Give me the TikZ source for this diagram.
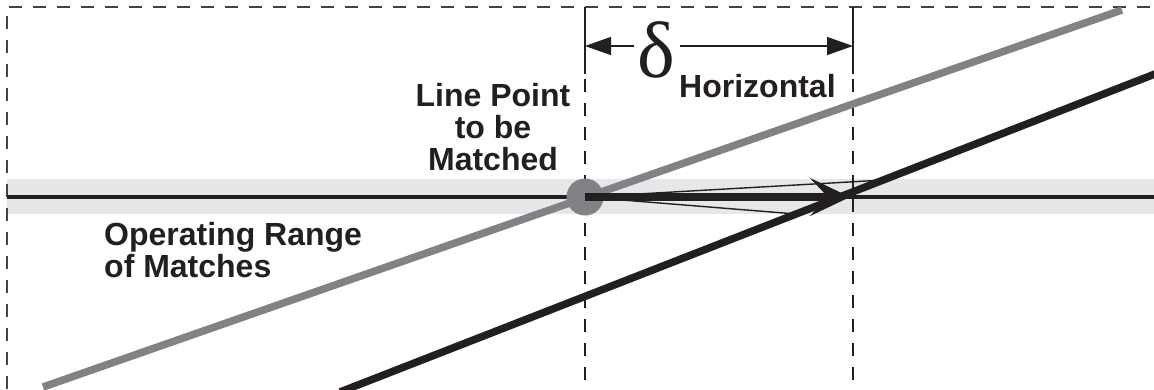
\documentclass[tikz,border=0pt]{standalone}
\usepackage{fontspec}
\setmainfont{Liberation Sans}
\newfontfamily\deltafont{Liberation Serif}
\usetikzlibrary{arrows.meta}
\definecolor{bandgray}{HTML}{E6E7E8}
\definecolor{linegray}{HTML}{808285}
\definecolor{inkblack}{HTML}{231F20}
\tikzset{
  framedash/.style={draw=inkblack!85, line width=1.1pt, dash pattern=on 13pt off 11pt},
  guidedash/.style={draw=inkblack, line width=1.1pt, dash pattern=on 13pt off 11pt},
  extline/.style={draw=inkblack, line width=2pt},
  dimline/.style={draw=inkblack, line width=1.4pt},
  label/.style={font=\fontsize{32}{32}\selectfont\bfseries, text=inkblack, inner sep=0pt},
  thinray/.style={draw=inkblack, line width=1.4pt},
}
\begin{document}
\begin{tikzpicture}[x=1pt, y=-1pt]
\useasboundingbox (0,0) rectangle (1154,389);
% band
\fill[bandgray] (7,179) rectangle (1154,214);
% frame
\coordinate (fbl) at (7,389);
\coordinate (ftl) at (7,7);
\coordinate (ftr) at (1154,7);
\draw[framedash] (fbl) -- (ftl) -- (ftr);
% guides
\coordinate (g1t) at (585,7);
\coordinate (g1b) at (585,389);
\coordinate (g2t) at (853,7);
\coordinate (g2b) at (853,389);
\draw[guidedash] (g1t) -- (g1b);
\draw[guidedash] (g2t) -- (g2b);
% horizontal line
\coordinate (hl) at (7,197);
\coordinate (hr) at (1154,197);
\draw[inkblack, line width=4pt] (hl) -- (hr);
% gray line
\coordinate (ga) at (43,387);
\coordinate (gb) at (1122,10);
\draw[linegray, line width=7.5pt] (ga) -- (gb);
% point
\node[circle, fill=linegray, minimum size=37pt, inner sep=0pt] (pt) at (585,197) {};
% rays to range ends
\coordinate (rtop) at (884,180);
\coordinate (rbot) at (796,214);
\draw[thinray] (pt.center) -- (rtop);
\draw[thinray] (pt.center) -- (rbot);
% thick arrow
\coordinate (tip) at (850,197);
\draw[inkblack, line width=8pt, -{Stealth[length=40pt, width=38pt, inset=18pt]}] (pt.center) -- (tip);
% black line
\coordinate (ba) at (340,392);
\coordinate (bb) at (1160,72);
\draw[inkblack, line width=7.5pt] (ba) -- (bb);
% extension lines
\coordinate (e1a) at (585,17);
\coordinate (e1b) at (585,74);
\coordinate (e2a) at (853,17);
\coordinate (e2b) at (853,74);
\draw[extline] (e1a) -- (e1b);
\draw[extline] (e2a) -- (e2b);
% dimension
\node[inner sep=0pt, anchor=base, font=\deltafont\fontsize{80}{80}\selectfont, text=inkblack] (delta) at (656,77) {δ};
\node[label, anchor=base west] (hor) at (679,97) {Horizontal};
\coordinate (d1) at (585,46);
\coordinate (d2) at (634,46);
\coordinate (d3) at (680,46);
\coordinate (d4) at (853,46);
\draw[dimline, {Triangle[length=26pt, width=18pt]}-] (d1) -- (d2);
\draw[dimline, -{Triangle[length=26pt, width=18pt]}] (d3) -- (d4);
% labels
\node[label, align=center, anchor=north] (lp) at (493,83) {Line Point\\to be\\Matched};
\node[label, align=left, anchor=north west] (orm) at (104,222) {Operating Range\\of Matches};
\end{tikzpicture}
\end{document}
